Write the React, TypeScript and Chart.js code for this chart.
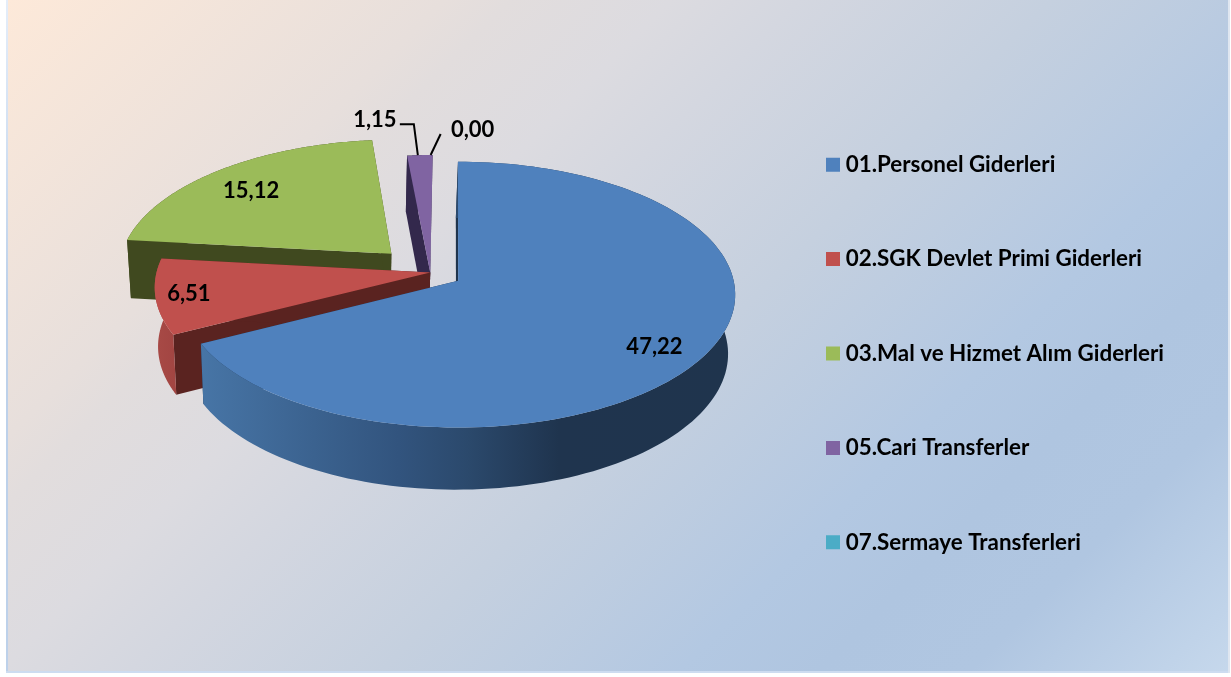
import React, { useEffect, useRef } from "react";
import { Chart, registerables } from "chart.js";

Chart.register(...registerables);

const categories = [
  "01.Personel Giderleri",
  "02.SGK Devlet Primi Giderleri",
  "03.Mal ve Hizmet Alım Giderleri",
  "05.Cari Transferler",
  "07.Sermaye Transferleri",
];
const values = [47.22, 6.51, 15.12, 1.15, 0.0];
const explode = [33, 0, 57, 0, 0];
const faceColors = ["#4f81bd", "#c0504d", "#9bbb59", "#8064a2", "#4bacc6"];
const cutWallColors = ["#1f344d", "#5a2320", "#40491f", "#33284c", "#245a68"];
const outerWallStops: [number, string][][] = [
  [[0, "#4775a6"], [0.37, "#32547e"], [0.5, "#2b496c"], [0.67, "#1f344e"], [1, "#1f344d"]],
  [[0, "#a84a46"], [1, "#a24542"]],
  [[0, "#40491f"], [1, "#40491f"]],
  [[0, "#33284c"], [1, "#33284c"]],
  [[0, "#245a68"], [1, "#245a68"]],
];
const drawOrder = [2, 3, 4, 1, 0];
const labelRadial = [0.83, 0.88, 0.77];
const labelAngleNudge = [4, 0, -2];

const FONT = "Lato, sans-serif";
const FONT_SIZE = 22.4;
const CAMERA = { x0: 456, y0: 283, tilt: 0.478, dist: 2638, shrinkX: 0.018, shrinkXCentre: 340, shrinkY: 0.025, depth: 59 };
const PIE_SHIFT = { u: -26, v: -22 };
const LEGEND_PAD = 72;

function project(u: number, v: number, z: number): [number, number] {
  const s = 1 / (1 - v / CAMERA.dist);
  const x = CAMERA.x0 + u * s;
  return [
    x + z * CAMERA.shrinkX * (CAMERA.shrinkXCentre - x),
    CAMERA.y0 + CAMERA.tilt * v * s * (1 - CAMERA.shrinkY * z) + z * CAMERA.depth * s,
  ];
}

function polygon(ctx: CanvasRenderingContext2D, pts: [number, number][]) {
  ctx.beginPath();
  pts.forEach((p, i) => (i ? ctx.lineTo(p[0], p[1]) : ctx.moveTo(p[0], p[1])));
  ctx.closePath();
}

function sliceGeometry(el: any) {
  const { startAngle, endAngle, outerRadius } = el;
  const mid = (startAngle + endAngle) / 2;
  const off = el.options.offset || 0;
  const cu = PIE_SHIFT.u + Math.cos(mid) * off;
  const cv = PIE_SHIFT.v + Math.sin(mid) * off;
  const rim = (z: number) => {
    const pts: [number, number][] = [];
    const n = 140;
    for (let k = 0; k <= n; k++) {
      const a = startAngle + ((endAngle - startAngle) * k) / n;
      pts.push(project(cu + Math.cos(a) * outerRadius, cv + Math.sin(a) * outerRadius, z));
    }
    return pts;
  };
  return { startAngle, endAngle, outerRadius, mid, cu, cv, rim };
}

const pie3d = {
  id: "pie3d",
  beforeDraw(chart: any) {
    const { ctx, width, height } = chart;
    ctx.save();
    ctx.fillStyle = "#ffffff";
    ctx.fillRect(0, 0, width, height);
    const L = 8, T = 0, R = 1228, B = 671;
    const edge = ctx.createLinearGradient(0, 0, 0, 300);
    edge.addColorStop(0, "#e4edf9");
    edge.addColorStop(1, "#bdd1ea");
    ctx.fillStyle = edge;
    ctx.fillRect(L - 2, T, 2, B - T + 2);
    ctx.fillStyle = "#cddcf0";
    ctx.fillRect(L - 2, B, R - L + 4, 2);
    ctx.fillStyle = "#dfe6f0";
    ctx.fillRect(R, T, 2, B - T + 2);
    const g = ctx.createLinearGradient(L, T, L + 949, T + 949);
    g.addColorStop(0, "#fde9d9");
    g.addColorStop(0.23, "#e7dfdc");
    g.addColorStop(0.265, "#e2dddd");
    g.addColorStop(0.35, "#dcdbe0");
    g.addColorStop(0.417, "#d4d7e0");
    g.addColorStop(0.55, "#c5d0df");
    g.addColorStop(0.707, "#b3c8e2");
    g.addColorStop(0.78, "#afc5e0");
    g.addColorStop(0.86, "#b0c6e1");
    g.addColorStop(1, "#c6d8ec");
    ctx.fillStyle = g;
    ctx.fillRect(L, T, R - L, B - T);
    ctx.restore();
  },
  afterLayout(chart: any) {
    const w = chart.legend.right - chart.legend.left;
    chart.legend.left = 831.5 - LEGEND_PAD;
    chart.legend.right = chart.legend.left + w;
  },
  beforeDatasetDraw() {
    return false;
  },
  afterDatasetsDraw(chart: any) {
    const { ctx } = chart;
    const arcs = chart.getDatasetMeta(0).data;
    ctx.save();
    ctx.lineJoin = "round";
    drawOrder.forEach((i) => {
      const el = arcs[i];
      if (!(el.endAngle > el.startAngle)) return;
      const g = sliceGeometry(el);
      const top = g.rim(0);
      const bottom = g.rim(1);
      const apexTop = project(g.cu, g.cv, 0);
      const apexBottom = project(g.cu, g.cv, 1);
      ctx.fillStyle = cutWallColors[i];
      polygon(ctx, [apexTop, top[0], bottom[0], apexBottom]);
      ctx.fill();
      polygon(ctx, [apexTop, top[top.length - 1], bottom[bottom.length - 1], apexBottom]);
      ctx.fill();
      const xs = bottom.concat(top).map((p) => p[0]);
      const grad = ctx.createLinearGradient(Math.min(...xs), 0, Math.max(...xs), 0);
      outerWallStops[i].forEach(([t, c]) => grad.addColorStop(t, c));
      ctx.fillStyle = grad;
      polygon(ctx, top.concat(bottom.slice().reverse()));
      ctx.fill();
      ctx.fillStyle = faceColors[i];
      polygon(ctx, [apexTop, ...top]);
      ctx.fill();
    });

    ctx.fillStyle = "#000";
    ctx.font = "700 22px " + FONT;
    ctx.textAlign = "center";
    ctx.textBaseline = "middle";
    const text = (i: number) => values[i].toFixed(2).replace(".", ",");
    labelRadial.forEach((f, i) => {
      const g = sliceGeometry(arcs[i]);
      const a = g.mid + (labelAngleNudge[i] * Math.PI) / 180;
      const p = project(g.cu + Math.cos(a) * g.outerRadius * f, g.cv + Math.sin(a) * g.outerRadius * f, 0);
      ctx.fillText(text(i), p[0], p[1]);
    });

    const a3 = sliceGeometry(arcs[3]);
    const p3 = project(a3.cu + Math.cos(a3.mid) * a3.outerRadius, a3.cv + Math.sin(a3.mid) * a3.outerRadius, 0);
    const a4 = sliceGeometry(arcs[4]);
    const p4 = project(a4.cu + Math.cos(a4.mid) * a4.outerRadius, a4.cv + Math.sin(a4.mid) * a4.outerRadius, 0);
    ctx.strokeStyle = "#000";
    ctx.lineWidth = 2;
    ctx.lineJoin = "miter";
    ctx.beginPath();
    ctx.moveTo(p3[0] - 20, p3[1] - 31);
    ctx.lineTo(p3[0] - 6, p3[1] - 31);
    ctx.lineTo(p3[0] - 2, p3[1]);
    ctx.stroke();
    ctx.beginPath();
    ctx.moveTo(p4[0] + 8, p4[1] - 21);
    ctx.lineTo(p4[0] - 2, p4[1]);
    ctx.stroke();
    ctx.fillText(text(3), p3[0] - 45, p3[1] - 35);
    ctx.fillText(text(4), p4[0] + 40, p4[1] - 25);
    ctx.restore();
  },
};

export default function App() {
  const ref = useRef<HTMLCanvasElement>(null);
  useEffect(() => {
    const chart = new Chart(ref.current as HTMLCanvasElement, {
      type: "pie",
      data: {
        labels: categories,
        datasets: [
          {
            data: values,
            backgroundColor: faceColors,
            offset: explode,
            borderWidth: 0,
          },
        ],
      },
      options: {
        responsive: false,
        animation: false,
        radius: 276,
        layout: { padding: { top: 30 } },
        plugins: {
          tooltip: { enabled: false },
          legend: {
            position: "right",
            align: "center",
            labels: {
              boxWidth: 3,
              boxHeight: 3,
              padding: LEGEND_PAD,
              color: "#000",
              font: { family: FONT, size: FONT_SIZE, weight: "700" },
              generateLabels: () =>
                categories.map((text, i) => ({
                  text,
                  fillStyle: faceColors[i],
                  strokeStyle: faceColors[i],
                  lineWidth: 11,
                  lineJoin: "miter",
                  hidden: false,
                  index: i,
                })),
            },
          },
        },
      },
      plugins: [pie3d],
    } as any);
    return () => chart.destroy();
  }, []);
  return (
    <div style={{ position: "absolute", left: 0, top: 0, width: 1231, height: 677 }}>
      <canvas ref={ref} width={1231} height={677} style={{ display: "block" }} />
    </div>
  );
}
